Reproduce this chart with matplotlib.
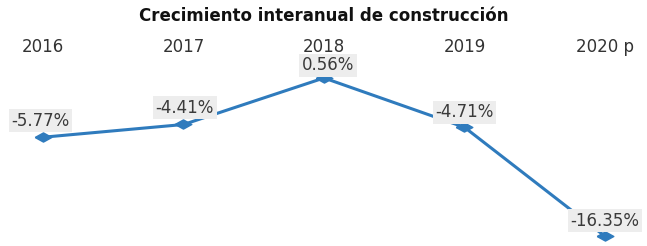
import numpy as np
import matplotlib
matplotlib.use("Agg")
import matplotlib.pyplot as plt
import matplotlib.transforms as mtransforms

plt.rcParams['font.family'] = ['DejaVu Sans']

years = ["2016", "2017", "2018", "2019", "2020 p"]
growth = [-5.77, -4.41, 0.56, -4.71, -16.35]
labels = ["-5.77%", "-4.41%", "0.56%", "-4.71%", "-16.35%"]

BLUE = "#2f7bbd"
x = np.arange(len(years))

fig = plt.figure(figsize=(6.47, 2.46), dpi=100)
ax = fig.add_axes([0, 0, 1, 1])
# flattened diamond, the reference is stretched sideways
diamond = [(-1, 0), (0, 0.55), (1, 0), (0, -0.55), (-1, 0)]
ax.plot(x, growth, color=BLUE, lw=2.2, marker=diamond, ms=12, zorder=3)

# label offsets in points (dx, dy) from the point
offs = [(-2, 12), (1, 12), (3, 9), (0, 11), (0, 11)]
for xi, yi, lab, (dx, dy) in zip(x, growth, labels, offs):
    ax.annotate(lab, (xi, yi), xytext=(dx, dy), textcoords="offset points",
                ha="center", va="center", fontsize=12, color="#3a3a3a",
                bbox=dict(boxstyle="square,pad=0.15", fc="#ededed", ec="none"),
                zorder=4)

trans = mtransforms.blended_transform_factory(ax.transData, ax.transAxes)
for xi, yr in zip(x, years):
    ax.text(xi, 0.81, yr, transform=trans, ha="center", va="center",
            fontsize=12, color="#333333")

fig.text(0.5, 0.935, "Crecimiento interanual de construcción", ha="center",
         va="center", fontsize=12, fontweight="bold", color="#111111")

ax.set_xlim(-0.306, 4.299)
ax.set_ylim(-17.39, 8.89)
ax.axis("off")
fig.savefig("out.png", dpi=100)
